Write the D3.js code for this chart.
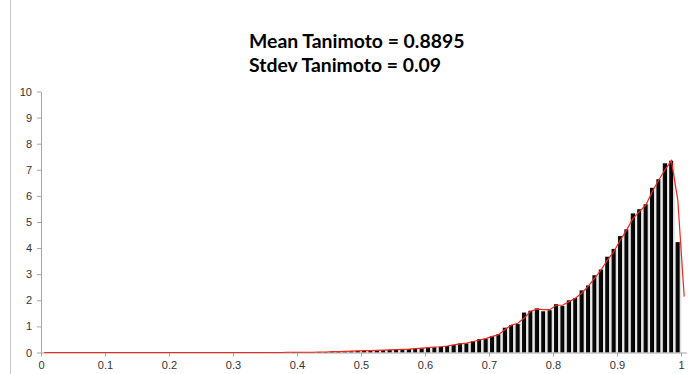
<!DOCTYPE html>
<html>
<head>
<meta charset="utf-8">
<script src="https://cdn.jsdelivr.net/npm/d3@7"></script>
<style>
  body { margin: 0; background: #fff; }
  svg { display: block; }
</style>
</head>
<body>
<div id="chart"></div>
<script>
// histogram bins (centres) and frequencies
const binCenters = [
  0.005,0.015,0.025,0.035,0.045,0.055,0.065,0.075,0.085,0.095,
  0.105,0.115,0.125,0.135,0.145,0.155,0.165,0.175,0.185,0.195,
  0.205,0.215,0.225,0.235,0.245,0.255,0.265,0.275,0.285,0.295,
  0.305,0.315,0.325,0.335,0.345,0.355,0.365,0.375,0.385,0.395,
  0.405,0.415,0.425,0.435,0.445,0.455,0.465,0.475,0.485,0.495,
  0.505,0.515,0.525,0.535,0.545,0.555,0.565,0.575,0.585,0.595,
  0.605,0.615,0.625,0.635,0.645,0.655,0.665,0.675,0.685,0.695,
  0.705,0.715,0.725,0.735,0.745,0.755,0.765,0.775,0.785,0.795,
  0.805,0.815,0.825,0.835,0.845,0.855,0.865,0.875,0.885,0.895,
  0.905,0.915,0.925,0.935,0.945,0.955,0.965,0.975,0.985,0.995
];
const barValues = [
  0,0,0,0,0,0,0,0,0,0,
  0,0,0,0,0,0,0,0,0,0,
  0,0,0,0,0,0,0,0,0,0,
  0,0,0,0,0,0,0,0,0.01,0.02,
  0.01,0.01,0.01,0.02,0.02,0.03,0.03,0.04,0.05,0.06,
  0.06,0.07,0.08,0.09,0.10,0.11,0.12,0.13,0.14,0.16,
  0.19,0.20,0.22,0.25,0.29,0.35,0.35,0.43,0.51,0.53,
  0.63,0.70,0.95,1.05,1.09,1.53,1.60,1.69,1.58,1.62,
  1.85,1.78,2.00,2.09,2.38,2.57,2.96,3.18,3.67,3.97,
  4.46,4.72,5.33,5.49,5.68,6.31,6.64,7.25,7.35,4.23
];
// red line: second series, one extra point past the last bin
const lineX = binCenters.concat([1.005]);
const lineValues = [
  0,0,0,0,0,0,0,0,0,0,
  0,0,0,0,0,0,0,0,0,0,
  0,0,0,0,0,0,0,0,0,0,
  0,0,0,0,0,0,0,0,0.01,0.01,
  0.01,0.01,0.01,0.02,0.02,0.03,0.03,0.04,0.05,0.06,
  0.07,0.07,0.08,0.09,0.10,0.11,0.12,0.13,0.15,0.17,
  0.19,0.21,0.22,0.25,0.29,0.33,0.36,0.42,0.48,0.53,
  0.62,0.68,0.88,1.05,1.12,1.32,1.58,1.66,1.64,1.64,
  1.81,1.81,1.95,2.08,2.28,2.53,2.85,3.16,3.54,3.86,
  4.30,4.69,5.14,5.40,5.65,6.16,6.60,7.00,7.35,5.84,
  2.14
];
const xTicks = [0,0.1,0.2,0.3,0.4,0.5,0.6,0.7,0.8,0.9,1];
const yTicks = [0,1,2,3,4,5,6,7,8,9,10];
const titleLines = ["Mean Tanimoto = 0.8895", "Stdev Tanimoto = 0.09"];

const W = 691, H = 374;
const margin = {left: 41, top: 91.5, bottom: 21.5};

const svg = d3.select('#chart').append('svg')
    .attr('width', W).attr('height', H);

// left frame edge
svg.append('line')
    .attr('x1', 10.5).attr('x2', 10.5).attr('y1', 0).attr('y2', H)
    .attr('stroke', '#c8c8c8').attr('stroke-width', 1);

const x = d3.scaleLinear().domain([0, 1]).range([margin.left, 681]);
const y = d3.scaleLinear().domain([0, 10]).range([H - margin.bottom, margin.top]);

// bar gradient (excel-ish shaded columns)
const defs = svg.append('defs');
const grad = defs.append('linearGradient').attr('id', 'barGrad')
    .attr('x1', '0%').attr('x2', '100%').attr('y1', '0%').attr('y2', '0%');
grad.append('stop').attr('offset', '0%').attr('stop-color', '#111');
grad.append('stop').attr('offset', '62%').attr('stop-color', '#000');
grad.append('stop').attr('offset', '70%').attr('stop-color', '#d8d8d8');
grad.append('stop').attr('offset', '100%').attr('stop-color', '#f0f0f0');

const step = x(0.01) - x(0);
const bars = binCenters.map((c, i) => ({c, v: barValues[i]}));

svg.append('g')
    .selectAll('rect')
    .data(bars.filter(d => d.v > 0))
    .join('rect')
    .attr('x', d => x(d.c) - step * 0.35)
    .attr('width', step * 0.95)
    .attr('y', d => y(d.v))
    .attr('height', d => y(0) - y(d.v))
    .attr('fill', 'url(#barGrad)');

// axes
const axisColor = '#a6a6a6';
const yAxis = svg.append('g')
    .attr('transform', `translate(${margin.left},0)`)
    .call(d3.axisLeft(y).tickValues(yTicks).tickSize(4).tickSizeOuter(0).tickFormat(d3.format('d')));
const xAxis = svg.append('g')
    .attr('transform', `translate(0,${y(0)})`)
    .call(d3.axisBottom(x).tickValues(xTicks).tickSize(4).tickSizeOuter(0).tickFormat(d => d === 0 ? '0' : d === 1 ? '1' : d3.format('.1f')(d)));

// the value axis runs a little past 1
xAxis.select('.domain').attr('d', `M${margin.left},0.5H687`);

[xAxis, yAxis].forEach(g => {
  g.select('.domain').attr('stroke', axisColor);
  g.selectAll('.tick line').attr('stroke', axisColor);
  g.selectAll('.tick text')
    .attr('fill', '#333')
    .style('font-family', 'Liberation Sans, Arial, sans-serif')
    .style('font-size', '11px');
});
yAxis.selectAll('.tick text').attr('x', -9);
xAxis.selectAll('.tick text').attr('y', 9);

// red series
const line = d3.line()
    .x((d, i) => x(lineX[i]))
    .y(d => y(d));
svg.append('path')
    .datum(lineValues)
    .attr('d', line)
    .attr('fill', 'none')
    .attr('stroke', '#f0281e')
    .attr('stroke-width', 1.2);

// title
svg.append('g')
    .selectAll('text')
    .data(titleLines)
    .join('text')
    .attr('x', 249)
    .attr('y', (d, i) => 48 + i * 24)
    .text(d => d)
    .style('font-family', 'Lato, "Open Sans", sans-serif')
    .style('font-weight', 'bold')
    .style('font-size', '19.4px')
    .attr('fill', '#000');
</script>
</body>
</html>
